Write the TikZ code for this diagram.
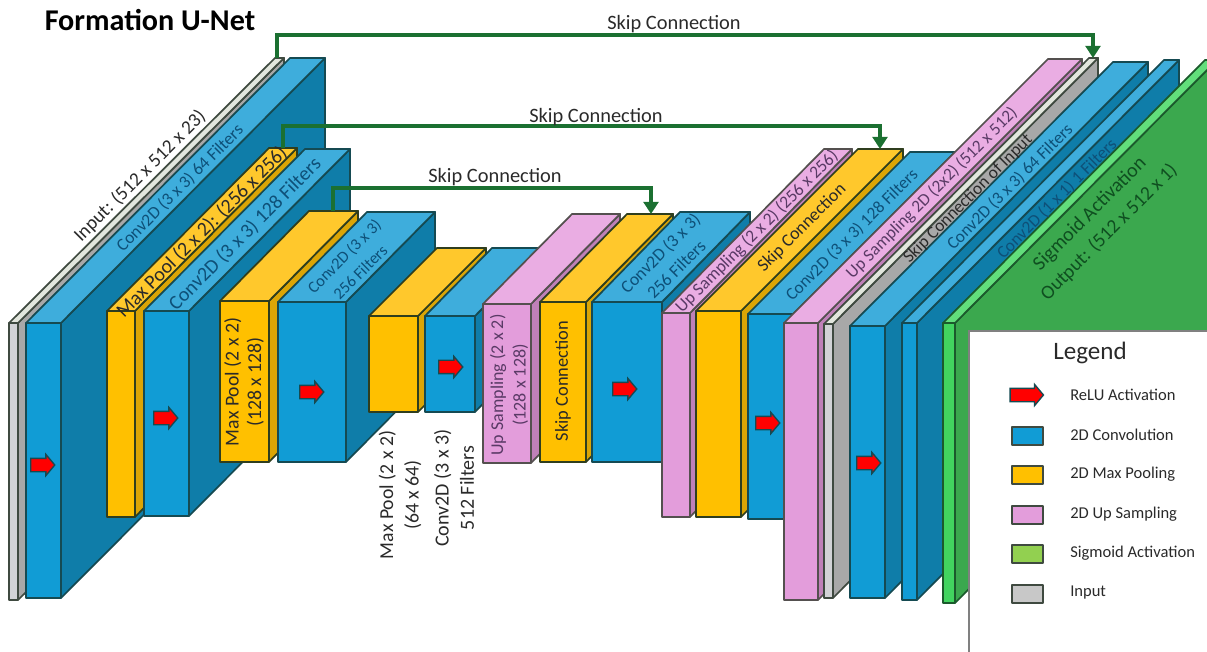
\documentclass[tikz,border=0pt]{standalone}
\usepackage{fontspec}
\setmainfont{Carlito}
\usetikzlibrary{arrows.meta,positioning,shapes.arrows}

\definecolor{bluefront}{HTML}{119CD5}
\definecolor{bluetop}{HTML}{3EADDC}
\definecolor{blueside}{HTML}{0F7DA9}
\definecolor{blueedge}{HTML}{154A52}
\definecolor{yellowfront}{HTML}{FFC000}
\definecolor{yellowtop}{HTML}{FFC82C}
\definecolor{yellowside}{HTML}{DBA505}
\definecolor{yellowedge}{HTML}{2F3E1E}
\definecolor{pinkfront}{HTML}{E39DDB}
\definecolor{pinktop}{HTML}{EAADE3}
\definecolor{pinkside}{HTML}{BF80B8}
\definecolor{pinkedge}{HTML}{54504F}
\definecolor{grayfront}{HTML}{D2D3D6}
\definecolor{graytop}{HTML}{E2E6DD}
\definecolor{grayside}{HTML}{A8A8A8}
\definecolor{grayedge}{HTML}{3F4A40}
\definecolor{greenfront}{HTML}{42D45F}
\definecolor{greentop}{HTML}{62DE7B}
\definecolor{greenside}{HTML}{3BA84E}
\definecolor{greenedge}{HTML}{1B5A2C}
\definecolor{skipcol}{HTML}{1B7031}
\definecolor{sigleg}{HTML}{92D050}
\definecolor{inpleg}{HTML}{C8C8C8}
\definecolor{txtblue}{HTML}{0E5078}
\definecolor{txtpink}{HTML}{5A3A66}
\definecolor{txtgreen}{HTML}{0F4F20}
\definecolor{txtdark}{HTML}{2A2A2A}

\tikzset{
 edge/.style={draw=#1,line width=1.3pt,line join=round},
 skip/.style={draw=skipcol,line width=2.3pt,-{Triangle[length=9pt,width=11pt]}},
 relu/.style={single arrow,draw=blueedge,fill=red,line width=1pt,inner xsep=0pt,inner ysep=4.5pt,
  minimum height=18pt,single arrow head extend=3pt,single arrow tip angle=100},
 lab/.style={font=\fontsize{#1}{17}\selectfont,align=center,inner sep=0pt},
 diag/.style={rotate=45},
 vert/.style={rotate=90},
}

% name, x0, y0, x1, y1, dx, dy, colour
\newcommand{\cuboid}[8]{%
 \filldraw[edge=#8edge,fill=#8side] (#4,#3) -- (#4+#6,#3+#7) -- (#4+#6,#5+#7) -- (#4,#5) -- cycle;
 \filldraw[edge=#8edge,fill=#8top] (#2,#3) -- (#2+#6,#3+#7) -- (#4+#6,#3+#7) -- (#4,#3) -- cycle;
 \node[edge=#8edge,fill=#8front,anchor=north west,inner sep=0pt,outer sep=0pt,
  minimum width={(#4-#2)*0.75pt},minimum height={(#5-#3)*0.75pt}] (#1) at (#2,#3) {};
}

\begin{document}
\begin{tikzpicture}[x=.75pt,y=-.75pt]
\clip (0,0) rectangle (1207,652);

% contracting side
\cuboid{inputa}{9}{323}{18}{600}{266}{-265}{gray}
\cuboid{conva}{26}{323}{61}{598}{264}{-265}{blue}
\cuboid{poola}{107}{311}{135}{517}{162}{-163}{yellow}
\cuboid{convb}{144}{311}{189}{516}{161}{-162}{blue}
\cuboid{poolb}{220}{301}{269}{462}{89}{-90}{yellow}
\cuboid{convc}{278}{302}{346}{462}{89}{-90}{blue}
\cuboid{poolc}{369}{316}{418}{412}{68}{-68}{yellow}
\cuboid{convd}{425}{316}{475}{412}{67}{-68}{blue}
% expanding side
\cuboid{upa}{483}{304}{531}{463}{89}{-90}{pink}
\cuboid{skipa}{540}{302}{586}{462}{87}{-88}{yellow}
\cuboid{conve}{592}{302}{662}{462}{88}{-90}{blue}
\cuboid{upb}{662}{313}{690}{517}{162}{-164}{pink}
\cuboid{skipb}{696}{311}{741}{517}{162}{-162}{yellow}
\cuboid{convf}{748}{314}{793}{519}{162}{-162}{blue}
\cuboid{upc}{784}{323}{818}{600}{264}{-264}{pink}
\cuboid{inputb}{824}{324}{833}{598}{265}{-266}{gray}
\cuboid{convg}{850}{326}{885}{598}{263}{-264}{blue}
\cuboid{convh}{902}{323}{917}{600}{262}{-263}{blue}
\cuboid{sigm}{943}{323}{955}{603}{262}{-263}{green}

% skip connections
\coordinate (fromA) at (277,58);
\coordinate (toA) at (1093,58);
\coordinate (fromB) at (283,148);
\coordinate (toB) at (880,149);
\coordinate (fromC) at (333,211);
\coordinate (toC) at (651,214);
\draw[skip] (fromA) -- ++(0,-23) -| (toA);
\draw[skip] (fromB) -- ++(0,-22) -| (toB);
\draw[skip] (fromC) -- ++(0,-23) -| (toC);
\node[lab=15.3,text=txtdark] (skiplabA) at (674,24.5) {Skip Connection};
\node[lab=15.3,text=txtdark] (skiplabB) at (596,117.5) {Skip Connection};
\node[lab=15.3,text=txtdark] (skiplabC) at (495,177.5) {Skip Connection};

% relu arrows
\node[relu] (relua) at (40,465) {};
\node[relu] (relub) at (163,418) {};
\node[relu] (reluc) at (309,392) {};
\node[relu] (relud) at (448,367) {};
\node[relu] (relue) at (622,389) {};
\node[relu] (reluf) at (765,423) {};
\node[relu] (relug) at (866,463) {};

% labels on the blocks
\node[lab=22.6,text=black] (title) at (150,20) {\bfseries Formation U-Net};
\node[lab=14.5,diag,text=txtdark] (labinput) at (140,176) {Input: (512 x 512 x 23)};
\node[lab=13.1,diag,text=txtblue] (labconva) at (180,188) {Conv2D (3 x 3) 64 Filters};
\node[lab=15,diag,text=txtdark] (labpoola) at (202,232) {Max Pool (2 x 2): (256 x 256)};
\node[lab=15,diag,text=txtblue] (labconvb) at (245,234) {Conv2D (3 x 3) 128 Filters};
\node[lab=12.3,diag,text=txtblue] (labconvc) at (352,264) {Conv2D (3 x 3)\\256 Filters};
\node[lab=14.8,vert,text=txtdark] (labpoolb) at (244,382) {Max Pool (2 x 2)\\(128 x 128)};
\node[lab=14.8,vert,text=txtdark] (labpoolc) at (400,495) {Max Pool (2 x 2)\\[2pt](64 x 64)};
\node[lab=15,vert,text=txtdark] (labconvd) at (454,488) {Conv2D (3 x 3)\\[2pt]512 Filters};
\node[lab=13.5,vert,text=txtpink] (labupa) at (509,385) {Up Sampling (2 x 2)\\(128 x 128)};
\node[lab=13.8,vert,text=txtdark] (labskipa) at (563,381) {Skip Connection};
\node[lab=13.3,diag,text=txtblue] (labconve) at (668,261) {Conv2D (3 x 3)\\256 Filters};
\node[lab=13.2,diag,text=txtpink] (labupb) at (757,232) {Up Sampling (2 x 2) (256 x 256)};
\node[lab=13.4,diag,text=txtdark] (labskipb) at (802,228) {Skip Connection};
\node[lab=13,diag,text=txtblue] (labconvf) at (852,235) {Conv2D (3 x 3) 128 Filters};
\node[lab=13,diag,text=txtpink] (labupc) at (932,193) {Up Sampling 2D (2x2) (512 x 512)};
\node[lab=13.1,diag,text=txtdark] (labinputb) at (968,199) {Skip Connection of Input};
\node[lab=13,diag,text=txtblue] (labconvg) at (1010,187) {Conv2D (3 x 3) 64 Filters};
\node[lab=13,diag,text=txtblue] (labconvh) at (1057,199) {Conv2D (1 x 1) 1 Filters};
\node[lab=15,diag,text=txtgreen] (labsiga) at (1090,214) {Sigmoid Activation};
\node[lab=14.7,diag,text=txtgreen] (labsigb) at (1109,232) {Output: (512 x 512 x 1)};

% legend
\filldraw[draw=black!50,fill=white,line width=1pt] (969,331) rectangle (1215,660);
\node[lab=18.8,text=txtdark] (legtitle) at (1090,353) {Legend};
\node[relu,minimum height=25pt] (legarrow) at (1024,395) {};
\node[lab=12.4,anchor=west,text=txtdark] (legrelu) at (1070,395) {ReLU Activation};
\foreach \boxname/\boxcol/\boxy/\boxtxt in {lconv/bluefront/436/2D Convolution,
  lpool/yellowfront/475/2D Max Pooling,lup/pinkfront/515/2D Up Sampling,
  lsig/sigleg/554/Sigmoid Activation,linp/inpleg/594/Input}{
 \node[edge=grayedge,fill=\boxcol,minimum width=23pt,minimum height=14pt,inner sep=0pt] (\boxname) at (1027.5,\boxy) {};
 \node[lab=12.4,anchor=west,text=txtdark] (\boxname txt) at (1070,\boxy-1) {\boxtxt};
}
\end{tikzpicture}
\end{document}
